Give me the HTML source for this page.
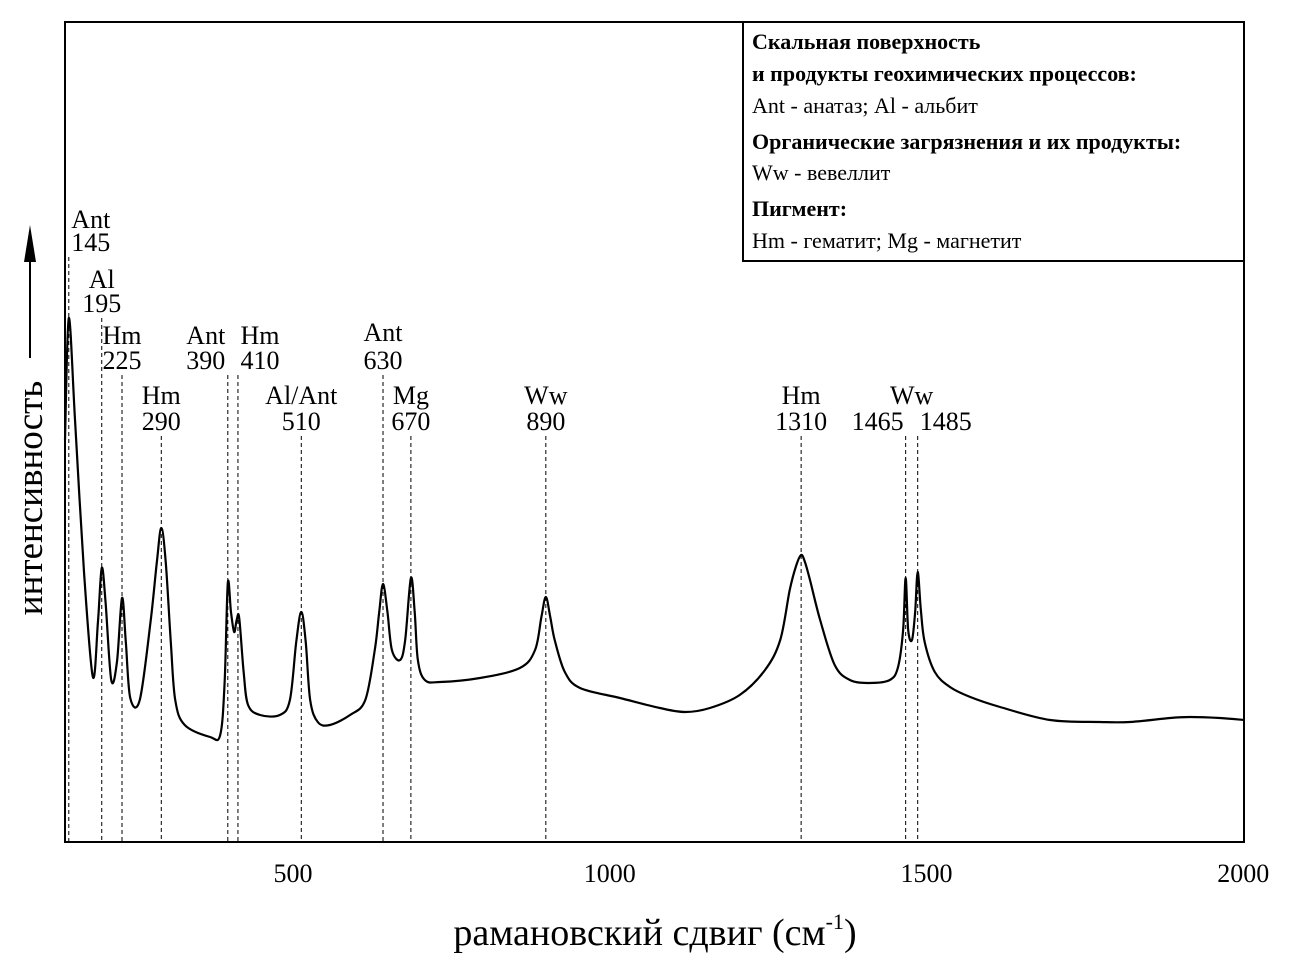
<!DOCTYPE html>
<html><head><meta charset="utf-8"><style>
body{margin:0;background:#fff}
svg{display:block;font-family:"Liberation Serif",serif}
</style></head><body>
<svg id="c" width="1289" height="972">
<rect x="65" y="22" width="1179" height="820" fill="none" stroke="#000" stroke-width="2"/>
<g id="legend">
<rect x="743" y="22" width="501" height="239" fill="#fff" stroke="#000" stroke-width="2"/>
<text x="752" y="49" font-size="22" font-weight="bold">Скальная поверхность</text>
<text x="752" y="81" font-size="22" font-weight="bold">и продукты геохимических процессов:</text>
<text x="752" y="113" font-size="22">Ant - анатаз; Al - альбит</text>
<text x="752" y="149" font-size="22" font-weight="bold">Органические загрязнения и их продукты:</text>
<text x="752" y="180" font-size="22">Ww - вевеллит</text>
<text x="752" y="216" font-size="22" font-weight="bold">Пигмент:</text>
<text x="752" y="248" font-size="22">Hm - гематит; Mg - магнетит</text>
</g>
<text x="655" y="945" font-size="38" text-anchor="middle">рамановский сдвиг (см<tspan font-size="22" dy="-16">-1</tspan><tspan dy="16">)</tspan></text>
<g>
<text transform="translate(42,498) rotate(-90)" font-size="37" text-anchor="middle">интенсивность</text>
<line x1="30" y1="358" x2="30" y2="260" stroke="#000" stroke-width="2"/>
<polygon points="30,225 24,262 36,262" fill="#000"/>
</g>
<g id="ticks"></g><g id="peaks"></g>
<path id="spec" fill="none" stroke="#000" stroke-width="2.2"/>
</svg>
<script>
const xTicks=[500,1000,1500,2000];
const peakPos=[146,198,230,292,397,413,513,642,686,899,1302,1467,1486];
const peakName=["Ant","Al","Hm","Hm","Ant","Hm","Al/Ant","Ant","Mg","Ww","Hm","",""];
const peakLabel=["145","195","225","290","390","410","510","630","670","890","1310","1465","1485"];
const specX=[140,146,156,170,184,192,198,204,213,222,230,236,243,258,275,285,292,299,307,314,329,369,385,392,397,402,407,411,415,422,429,448,479,495,505,513,520,527,539,558,590,614,629,636,642,649,656,669,677,686,692,697,708,732,795,858,882,892,899,906,913,929,953,1016,1079,1119,1158,1205,1245,1269,1284,1294,1302,1308,1316,1332,1355,1379,1411,1442,1455,1463,1467,1471,1477,1482,1486,1491,1497,1513,1537,1569,1616,1695,1774,1821,1884,1916,1963,2001];
const specY=[402,524,420,270,165,220,274,240,162,180,244,200,144,142,220,280,314,280,200,142,117,105,107,160,259,230,210,222,224,170,137,127,127,142,200,230,200,142,120,117,127,142,192,230,258,230,192,182,202,264,230,182,162,160,164,174,192,225,245,225,202,170,154,144,134,130,134,147,172,202,252,276,287,280,262,222,177,162,159,162,175,212,264,212,202,230,270,232,200,170,155,145,135,122,120,120,124,125,124,122];
const X=v=>65+(v-140)*0.6335, Y=i=>842-i;
const ns="http://www.w3.org/2000/svg";
const tg=document.getElementById('ticks'),pg=document.getElementById('peaks');
xTicks.forEach(t=>{const e=document.createElementNS(ns,'text');


e.setAttribute('x',X(t));e.setAttribute('y',882);e.setAttribute('font-size','26');e.setAttribute('text-anchor','middle');e.textContent=t;tg.appendChild(e);});
const lblY=[[228,251],[288,312],[344,369],[404,430],[344,369],[344,369],[404,430],[341,369],[404,430],[404,430],[404,430],[404,430],[404,430]];
const lblDx=[22,0,0,0,-22,22,0,0,0,0,0,-2,2];
const lblAnchor=["middle","middle","middle","middle","middle","middle","middle","middle","middle","middle","middle","end","start"];
peakPos.forEach((p,i)=>{const x=X(p);
const l=document.createElementNS(ns,'line');


l.setAttribute('x1',x);l.setAttribute('x2',x);l.setAttribute('y1',lblY[i][1]+6);l.setAttribute('y2',842);l.setAttribute('stroke','#000');l.setAttribute('stroke-dasharray','4,3');l.setAttribute('stroke-width','1');pg.appendChild(l);
const dx=lblDx[i], anchor=lblAnchor[i];
if(peakName[i]){const a=document.createElementNS(ns,'text');


a.setAttribute('x',x+dx);a.setAttribute('y',lblY[i][0]);a.setAttribute('font-size','26');a.setAttribute('text-anchor',anchor);a.textContent=peakName[i];pg.appendChild(a);}
const b=document.createElementNS(ns,'text');


b.setAttribute('x',x+dx);b.setAttribute('y',lblY[i][1]);b.setAttribute('font-size','26');b.setAttribute('text-anchor',anchor);b.textContent=peakLabel[i];pg.appendChild(b);});
const w=document.createElementNS(ns,'text');


w.setAttribute('x',(X(1467)+X(1486))/2);w.setAttribute('y',404);w.setAttribute('font-size','26');w.setAttribute('text-anchor','middle');w.textContent='Ww';pg.appendChild(w);
const pts=specX.map((v,i)=>[X(v),Y(specY[i])]);
let d='M'+pts[0][0]+','+pts[0][1];
for(let i=0;i<pts.length-1;i++){const p0=pts[Math.max(0,i-1)],p1=pts[i],p2=pts[i+1],p3=pts[Math.min(pts.length-1,i+2)];
const c1=[p1[0]+(p2[0]-p0[0])/6,p1[1]+(p2[1]-p0[1])/6],c2=[p2[0]-(p3[0]-p1[0])/6,p2[1]-(p3[1]-p1[1])/6];
d+=` C${c1[0]},${c1[1]} ${c2[0]},${c2[1]} ${p2[0]},${p2[1]}`;}
document.getElementById('spec').setAttribute('d',d);
</script>
</body></html>
